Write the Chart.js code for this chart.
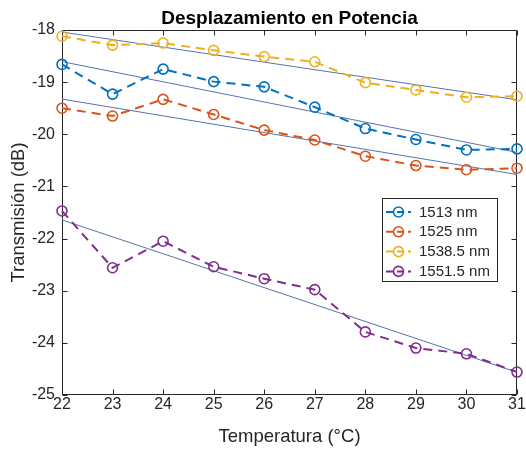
<!DOCTYPE html>
<html>
<head>
<meta charset="utf-8">
<script src="https://cdn.jsdelivr.net/npm/chart.js@4/dist/chart.umd.min.js"></script>
<style>
  html, body { margin: 0; padding: 0; background: #ffffff; }
  #c { display: block; }
</style>
</head>
<body>
<canvas id="c" width="526" height="449"></canvas>
<script>
// Temperature sweep (°C) and measured transmission (dB) per wavelength
const temperatures = [22, 23, 24, 25, 26, 27, 28, 29, 30, 31];
const trans1513  = [-18.66, -19.23, -18.75, -18.99, -19.09, -19.48, -19.89, -20.10, -20.30, -20.28];
const trans1525  = [-19.50, -19.65, -19.33, -19.62, -19.92, -20.11, -20.42, -20.60, -20.68, -20.65];
const trans15385 = [-18.12, -18.29, -18.25, -18.39, -18.51, -18.61, -19.01, -19.15, -19.29, -19.27];
const trans15515 = [-21.47, -22.56, -22.05, -22.54, -22.77, -22.98, -23.79, -24.10, -24.21, -24.56];

const seriesLabels = ['1513 nm', '1525 nm', '1538.5 nm', '1551.5 nm'];
const seriesValues = [trans1513, trans1525, trans15385, trans15515];
const seriesColors = ['#0072BD', '#D95319', '#EDB120', '#7E2F8E'];

const xTickValues = [22, 23, 24, 25, 26, 27, 28, 29, 30, 31];
const yTickValues = [-25, -24, -23, -22, -21, -20, -19, -18];

const chartTitle = 'Desplazamiento en Potencia';

const TEXT = '#262626';
const FONT = "'Liberation Sans', Arial, Helvetica, sans-serif";

// least-squares straight line through one series, evaluated at the sweep ends
function linearFit(xs, ys) {
  const n = xs.length;
  const mx = xs.reduce((a, b) => a + b, 0) / n;
  const my = ys.reduce((a, b) => a + b, 0) / n;
  let sxy = 0, sxx = 0;
  for (let i = 0; i < n; i++) {
    sxy += (xs[i] - mx) * (ys[i] - my);
    sxx += (xs[i] - mx) * (xs[i] - mx);
  }
  const m = sxy / sxx;
  const x0 = xs[0], x1 = xs[n - 1];
  return [{ x: x0, y: my + m * (x0 - mx) }, { x: x1, y: my + m * (x1 - mx) }];
}

const dataSets = seriesValues.map((vals, i) => ({
  label: seriesLabels[i],
  data: temperatures.map((t, k) => ({ x: t, y: vals[k] })),
  borderColor: seriesColors[i],
  backgroundColor: 'rgba(0,0,0,0)',
  borderWidth: 2,
  borderDash: [9, 6],
  pointStyle: 'circle',
  pointRadius: 5,
  pointBorderWidth: 1.6,
  pointBorderColor: seriesColors[i],
  pointBackgroundColor: 'rgba(0,0,0,0)',
  pointHoverRadius: 5,
  tension: 0,
  clip: false,
  isSeries: true
}));

const fitSets = seriesValues.map((vals, i) => ({
  label: 'fit ' + seriesLabels[i],
  data: linearFit(temperatures, vals),
  borderColor: '#5573ad',
  borderWidth: 1,
  pointRadius: 0,
  pointHoverRadius: 0,
  tension: 0,
  clip: false,
  isSeries: false
}));

// axes box with inward tick marks on all four sides
const framePlugin = {
  id: 'frame',
  beforeDatasetsDraw(chart) {
    const { ctx, chartArea: a, scales: { x, y } } = chart;
    const L = Math.round(a.left) + 0.5, R = Math.round(a.right) - 0.5;
    const T = Math.round(a.top) + 0.5, B = Math.round(a.bottom) - 0.5;
    const len = 5;
    ctx.save();
    ctx.strokeStyle = TEXT;
    ctx.lineWidth = 1;
    ctx.beginPath();
    ctx.rect(L, T, R - L, B - T);
    xTickValues.forEach(v => {
      const px = Math.round(x.getPixelForValue(v)) + 0.5;
      ctx.moveTo(px, B); ctx.lineTo(px, B - len);
      ctx.moveTo(px, T); ctx.lineTo(px, T + len);
    });
    yTickValues.forEach(v => {
      const py = Math.round(y.getPixelForValue(v)) + 0.5;
      ctx.moveTo(L, py); ctx.lineTo(L + len, py);
      ctx.moveTo(R, py); ctx.lineTo(R - len, py);
    });
    ctx.stroke();
    ctx.restore();
  }
};

// bold title centred over the plot area
const titlePlugin = {
  id: 'axesTitle',
  afterDraw(chart) {
    const { ctx, chartArea: a } = chart;
    ctx.save();
    ctx.fillStyle = '#000000';
    ctx.font = 'bold 19px ' + FONT;
    ctx.textAlign = 'center';
    ctx.textBaseline = 'alphabetic';
    ctx.fillText(chartTitle, (a.left + a.right) / 2, 23.5);
    ctx.restore();
  }
};

// boxed legend with a dashed line and circle marker per series
const legendPlugin = {
  id: 'boxLegend',
  afterDraw(chart) {
    const { ctx } = chart;
    const bx = 382.5, by = 198.5, bw = 115, bh = 83;
    const rowY0 = 212, rowStep = 19.8;
    ctx.save();
    ctx.fillStyle = '#ffffff';
    ctx.fillRect(bx, by, bw, bh);
    ctx.strokeStyle = TEXT;
    ctx.lineWidth = 1;
    ctx.strokeRect(bx, by, bw, bh);
    ctx.font = '15px ' + FONT;
    ctx.textBaseline = 'middle';
    ctx.textAlign = 'left';
    chart.data.datasets.filter(d => d.isSeries).forEach((d, i) => {
      const yy = rowY0 + i * rowStep;
      ctx.strokeStyle = d.borderColor;
      ctx.lineWidth = 2;
      ctx.setLineDash([7, 4]);
      ctx.beginPath();
      ctx.moveTo(386, yy);
      ctx.lineTo(411, yy);
      ctx.stroke();
      ctx.setLineDash([]);
      ctx.lineWidth = 1.6;
      ctx.beginPath();
      ctx.arc(398.5, yy, 5, 0, Math.PI * 2);
      ctx.stroke();
      ctx.fillStyle = TEXT;
      ctx.fillText(d.label, 419, yy + 0.5);
    });
    ctx.restore();
  }
};

new Chart(document.getElementById('c'), {
  type: 'line',
  data: { datasets: [...dataSets, ...fitSets] },
  options: {
    responsive: false,
    animation: false,
    events: [],
    layout: { padding: { left: 0, right: 9, top: 30, bottom: 0 } },
    plugins: {
      legend: { display: false },
      tooltip: { enabled: false },
      title: { display: false }
    },
    scales: {
      x: {
        type: 'linear',
        min: 22, max: 31,
        afterFit(s) { s.height = 54; },
        afterBuildTicks(s) { s.ticks = xTickValues.map(v => ({ value: v })); },
        grid: { display: false, drawTicks: false },
        border: { display: false },
        ticks: { color: TEXT, font: { family: FONT, size: 16 }, padding: 0, autoSkip: false, maxRotation: 0 },
        title: {
          display: true,
          text: 'Temperatura (°C)',
          color: TEXT,
          font: { family: FONT, size: 18.5 },
          padding: { top: 0, bottom: 1 }
        }
      },
      y: {
        type: 'linear',
        min: -25, max: -18,
        afterFit(s) { s.width = 62; },
        afterBuildTicks(s) { s.ticks = yTickValues.map(v => ({ value: v })); },
        grid: { display: false, drawTicks: false },
        border: { display: false },
        ticks: { color: TEXT, font: { family: FONT, size: 16 }, padding: 7, autoSkip: false },
        title: {
          display: true,
          text: 'Transmisión (dB)',
          color: TEXT,
          font: { family: FONT, size: 18.5 },
          padding: { top: 8, bottom: 0 }
        }
      }
    }
  },
  plugins: [framePlugin, titlePlugin, legendPlugin]
});
</script>
</body>
</html>
